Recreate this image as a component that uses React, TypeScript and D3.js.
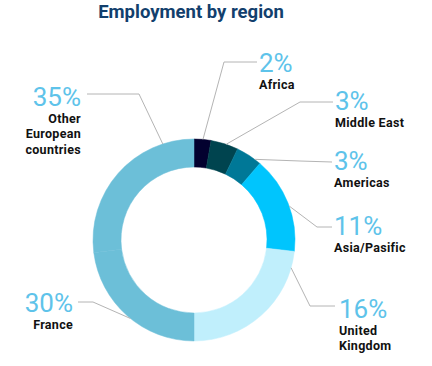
import * as d3 from 'd3';
import { useEffect, useRef } from 'react';

const regions = ['Africa', 'Middle East', 'Americas', 'Asia/Pasific', 'United Kingdom', 'France', 'Other European countries'];
const percentLabels = ['2%', '3%', '3%', '11%', '16%', '30%', '35%'];
// arc sizes as drawn in the picture (share of the full ring)
const arcShares = [2.7, 4.4, 4.2, 15.5, 23.2, 23, 27];
const sliceColors = ['#03012f', '#00444f', '#007897', '#00c5fd', '#c0effc', '#6cbfd8', '#6cbfd8'];
const nameLines = [['Africa'], ['Middle East'], ['Americas'], ['Asia/Pasific'], ['United', 'Kingdom'], ['France'], ['Other', 'European', 'countries']];

// leader angle on the ring (deg, clockwise from top), elbow, text anchor
const labelLayout = [
  { angle: 5.1, elbow: [224, 62], end: [257, 62], tx: 259, ty: 71.5, side: 'start' },
  { angle: 18.6, elbow: [300, 102], end: [333, 102], tx: 335, ty: 109.5, side: 'start' },
  { angle: 37, elbow: [300, 161], end: [332, 162], tx: 334, ty: 169.5, side: 'start' },
  { angle: 70.3, elbow: [317, 227], end: [332, 227], tx: 334, ty: 234.5, side: 'start' },
  { angle: 106, elbow: [310, 306], end: [335, 306], tx: 339, ty: 317.5, side: 'start' },
  { angle: 219, elbow: [93, 302], end: [78, 302], tx: 73, ty: 311.5, side: 'end' },
  { angle: 342, elbow: [139, 94], end: [87, 94], tx: 81, ty: 105.5, side: 'end' },
];

const App = () => {
  const svgRef = useRef<SVGSVGElement>(null);
  const width = 432;
  const height = 366;
  const cx = 194;
  const cy = 240;
  const outerR = 101;
  const innerR = 73;

  useEffect(() => {
    const svg = d3.select(svgRef.current);
    svg.selectAll('*').remove();

    svg
      .append('text')
      .attr('x', 191)
      .attr('y', 18)
      .attr('text-anchor', 'middle')
      .attr('font-family', 'Roboto, sans-serif')
      .attr('font-weight', 700)
      .attr('font-size', 18.5)
      .attr('fill', '#123f6d')
      .text('Employment by region');

    const pie = d3
      .pie<number>()
      .sort(null)
      .value((d) => d);
    const arc = d3.arc<d3.PieArcDatum<number>>().innerRadius(innerR).outerRadius(outerR);

    const g = svg.append('g').attr('transform', `translate(${cx},${cy})`);
    g.selectAll('path')
      .data(pie(arcShares))
      .enter()
      .append('path')
      .attr('d', arc)
      .attr('fill', (d, i) => sliceColors[i])
      .attr('stroke', (d, i) => sliceColors[i])
      .attr('stroke-width', 0.5);

    const labels = svg.append('g');
    regions.forEach((name, i) => {
      const lay = labelLayout[i];
      const [px, py] = d3.pointRadial((lay.angle * Math.PI) / 180, outerR);
      labels
        .append('polyline')
        .attr('points', `${cx + px},${cy + py} ${lay.elbow[0]},${lay.elbow[1]} ${lay.end[0]},${lay.end[1]}`)
        .attr('fill', 'none')
        .attr('stroke', '#b4b4b4')
        .attr('stroke-width', 1);

      labels
        .append('text')
        .attr('x', lay.tx)
        .attr('y', lay.ty)
        .attr('text-anchor', lay.side)
        .attr('font-family', 'Roboto, sans-serif')
        .attr('font-size', 26)
        .attr('fill', '#5ec3ea')
        .text(percentLabels[i]);

      const t = labels
        .append('text')
        .attr('text-anchor', lay.side)
        .attr('font-family', 'Roboto, sans-serif')
        .attr('font-weight', 700)
        .attr('font-size', 12.5)
        .attr('letter-spacing', 0.3)
        .attr('fill', '#111');
      nameLines[i].forEach((line, j) => {
        t.append('tspan')
          .attr('x', lay.tx)
          .attr('y', lay.ty + 17.3 + j * 15.6)
          .text(line);
      });
    });
  }, []);

  return (
    <svg
      ref={svgRef}
      width={width}
      height={height}
      style={{ position: 'absolute', left: 0, top: 0, background: '#fff' }}
    />
  );
};

export default App;
